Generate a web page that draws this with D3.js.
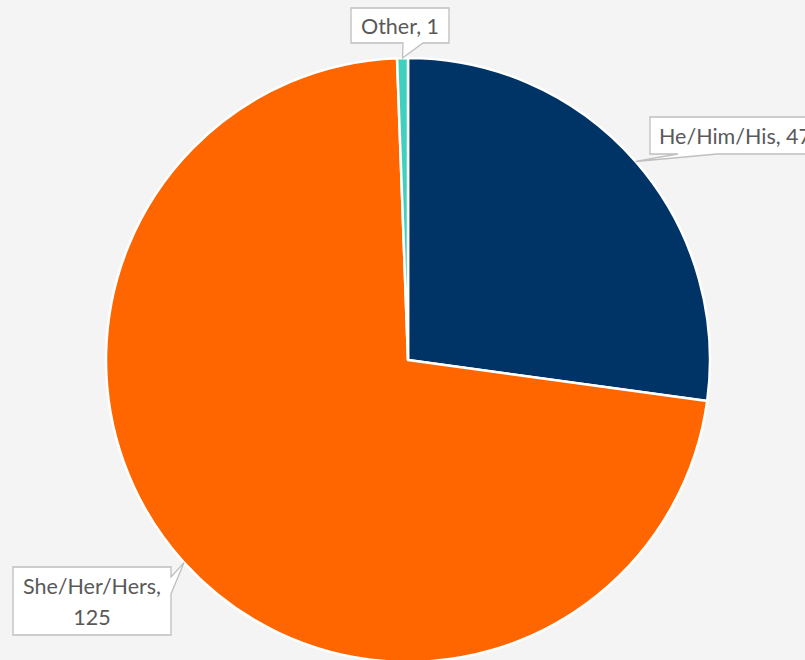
<!DOCTYPE html>
<html>
<head>
<meta charset="utf-8">
<script src="https://cdn.jsdelivr.net/npm/d3@7"></script>
<style>
  html, body { margin: 0; padding: 0; background: #f4f4f4; overflow: hidden; }
  svg { display: block; }
  .lbl { font-family: Lato, "Open Sans", sans-serif; font-size: 21.5px; fill: #595959; }
</style>
</head>
<body>
<svg id="PieSvg" width="805" height="660"></svg>
<script>
var categories = ['He/Him/His', 'She/Her/Hers', 'Other']
var values = [47, 125, 1]
var colors = ['#003366', '#ff6600', '#3fd1be']

var PieSvg = d3.select("#PieSvg")
var cx = 408, cy = 360, R = 302

var pie = d3.pie().sort(null).value(d => d.value)
var arc = d3.arc().innerRadius(0).outerRadius(R)
var data = categories.map((c, i) => ({ name: c, value: values[i], color: colors[i] }))
var arcs = pie(data)

var g = PieSvg.append('g').attr('transform', `translate(${cx},${cy})`)
g.selectAll('path.slice')
    .data(arcs)
    .enter()
    .append('path')
    .attr('class', 'slice')
    .attr('d', arc)
    .attr('fill', d => d.data.color)
    .attr('stroke', '#ffffff')
    .attr('stroke-width', 2.5)
    .attr('stroke-linejoin', 'round')

// label boxes: where they sit and which edge the pointer comes out of
var boxes = [
    { x: 650, y: 117, w: 175, h: 37, side: 'bottom', a: 678, b: 717, lines: ['He/Him/His, 47'], tx: 659 },
    { x: 13, y: 567, w: 158, h: 68, side: 'right', a: 577, b: 594, lines: ['She/Her/Hers,', '125'], tx: null },
    { x: 351, y: 8, w: 98, h: 35, side: 'bottom', a: 403, b: 423, lines: ['Other, 1'], tx: null }
]

function calloutPath(bx, tip) {
    var x0 = bx.x, y0 = bx.y, x1 = bx.x + bx.w, y1 = bx.y + bx.h
    var p = d3.path()
    p.moveTo(x0, y0)
    p.lineTo(x1, y0)
    if (bx.side == 'right') {
        p.lineTo(x1, bx.a)
        p.lineTo(tip[0], tip[1])
        p.lineTo(x1, bx.b)
    }
    p.lineTo(x1, y1)
    if (bx.side == 'bottom') {
        p.lineTo(bx.b, y1)
        p.lineTo(tip[0], tip[1])
        p.lineTo(bx.a, y1)
    }
    p.lineTo(x0, y1)
    p.closePath()
    return p.toString()
}

arcs.forEach(function (d, i) {
    var mid = (d.startAngle + d.endAngle) / 2
    var tip = [cx + Math.sin(mid) * R, cy - Math.cos(mid) * R]
    var bx = boxes[i]
    PieSvg.append('path')
        .attr('d', calloutPath(bx, tip))
        .attr('fill', '#ffffff')
        .attr('stroke', '#bfbfbf')
        .attr('stroke-width', 1.3)
    var lh = 31
    var startY = bx.y + bx.h / 2 - (bx.lines.length - 1) * lh / 2 + 8.5
    bx.lines.forEach(function (t, k) {
        PieSvg.append('text')
            .attr('class', 'lbl')
            .attr('x', bx.tx == null ? bx.x + bx.w / 2 : bx.tx)
            .attr('y', startY + k * lh)
            .attr('text-anchor', bx.tx == null ? 'middle' : 'start')
            .text(t)
    })
})
</script>
</body>
</html>
